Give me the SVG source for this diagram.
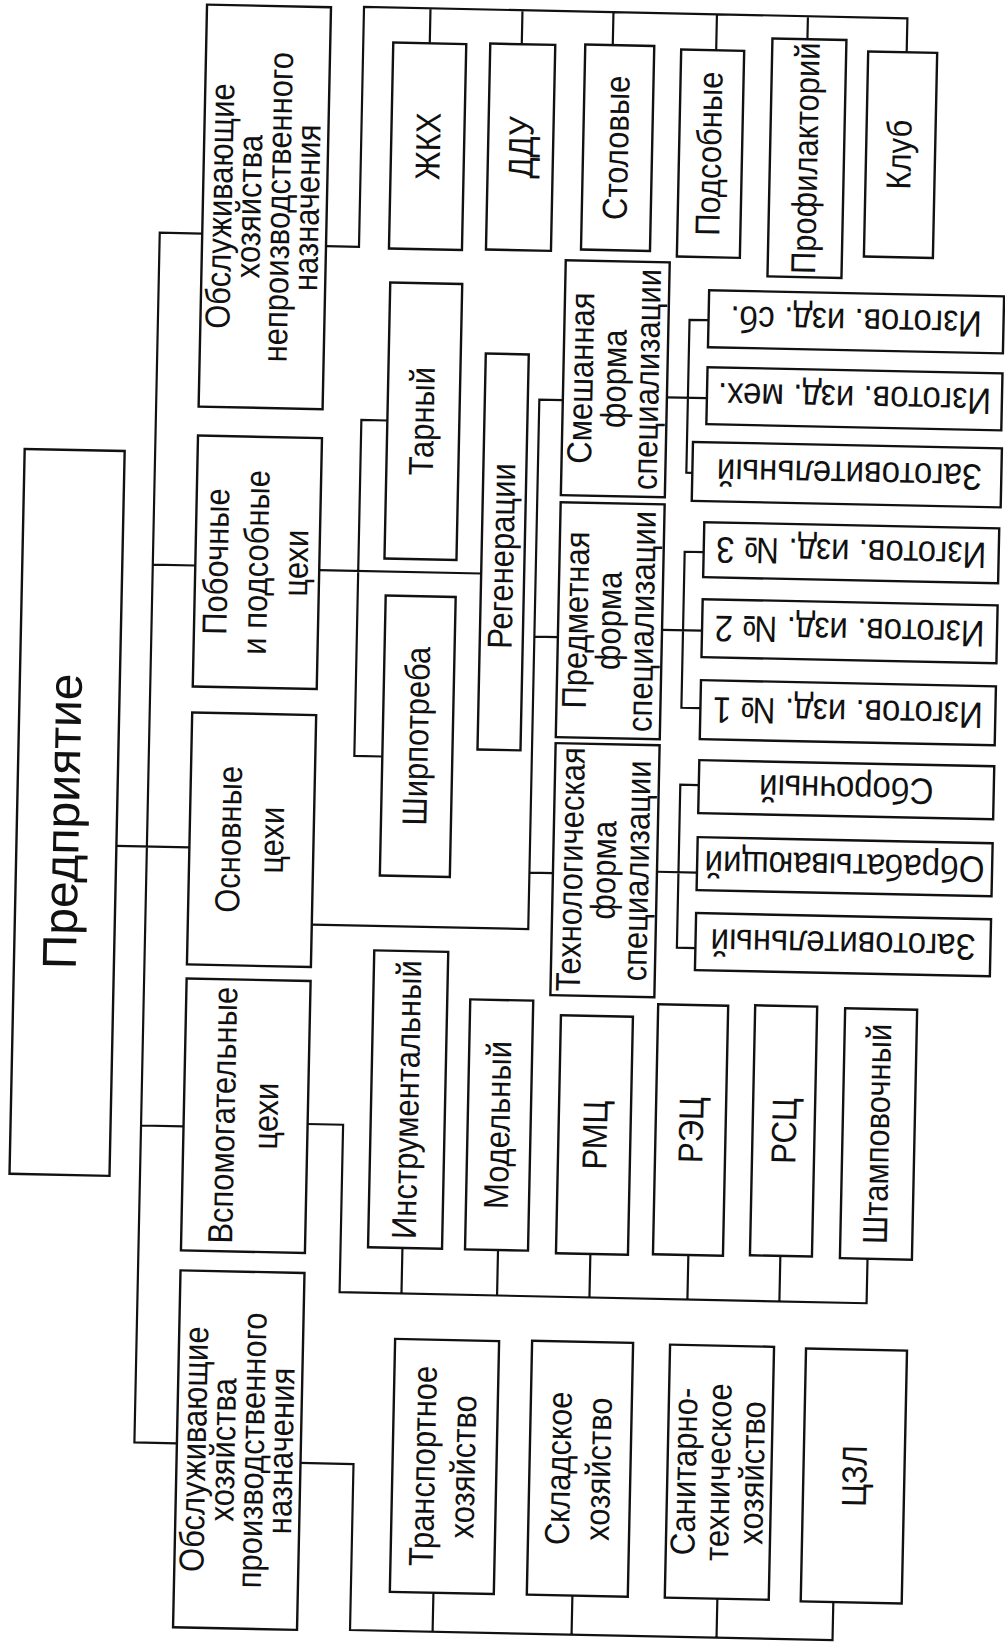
<svg xmlns="http://www.w3.org/2000/svg" width="1005" height="1642" viewBox="0 0 1005 1642">
<style>
.b{fill:#fff;stroke:#111;stroke-width:2.4}
.c{fill:none;stroke:#111;stroke-width:2.2}
.t{font-family:"Liberation Sans",Arial,sans-serif;font-size:31px;fill:#111;text-anchor:middle}
.r{font-size:33px}
.big{font-size:48px}
</style>
<rect width="1005" height="1642" fill="#fff"/>
<g transform="rotate(1.2 502 821)">
<g id="connectors">
<path class="c" d="M190 240 H147.5 V1450 H190 M147.5 572 H190 M147.5 1133 H190 M117 854 H190"/>
<path class="c" d="M314 250 H347 V10 H890.5 V44 M413.5 10 V45 M505.5 10 V44 M596.5 10 V43 M700 10 V46 M791 10 V33"/>
<path class="c" d="M314 574 H476 M379 423 H353 V759 H381"/>
<path class="c" d="M314 928.5 H530.5 V399 H554 M530.5 636 H554 M530.5 872 H554"/>
<path class="c" d="M658 394 H698 M698 316 H679 V469 H685"/>
<path class="c" d="M658 626.5 H698 M698 548 H679 V704 H698"/>
<path class="c" d="M658 868.5 H698 M698 781 H679.5 V944 H698"/>
<path class="c" d="M314 1128 H349.5 V1295.5 H876.6 V1251 M411.4 1295.5 V1250 M507 1295.5 V1250 M599.4 1295.5 V1252 M697.4 1295.5 V1251 M789.4 1295.5 V1250"/>
<path class="c" d="M313 1467 H367 V1633 H849.6 V1595 M449.6 1633 V1594 M588.6 1633 V1594 M733.6 1633 V1594"/>
</g>

<g id="n-predpriyatie"><rect class="b" x="17" y="459" width="100" height="725"/>
<text class="t big" transform="translate(67 830.5) rotate(-90)"><tspan x="0" y="12">Предприятие</tspan></text></g>

<g id="n-obsl-neproizv"><rect class="b" x="190" y="11" width="124" height="402"/>
<text class="t" transform="translate(252 212) rotate(-90) scale(1 1.12)"><tspan x="0" y="-29.5">Обслуживающие</tspan><tspan x="0" y="-3.6">хозяйства</tspan><tspan x="0" y="22.3">непроизводственного</tspan><tspan x="0" y="48.2">назначения</tspan></text></g>

<g id="n-pobochnye"><rect class="b" x="190" y="442" width="124" height="251"/>
<text class="t" transform="translate(252 567.5) rotate(-90) scale(1 1.12)"><tspan x="0" y="-26.4">Побочные</tspan><tspan x="0" y="9.3">и подсобные</tspan><tspan x="0" y="45">цехи</tspan></text></g>

<g id="n-osnovnye"><rect class="b" x="190" y="719" width="124" height="252"/>
<text class="t" transform="translate(252 845) rotate(-90) scale(1 1.12)"><tspan x="0" y="-9.9">Основные</tspan><tspan x="0" y="28.5">цехи</tspan></text></g>

<g id="n-vspom"><rect class="b" x="190" y="985" width="124" height="272"/>
<text class="t" transform="translate(252 1121) rotate(-90) scale(1 1.12)"><tspan x="0" y="-9.9">Вспомогательные</tspan><tspan x="0" y="28.5">цехи</tspan></text></g>

<g id="n-obsl-proizv"><rect class="b" x="190" y="1277" width="124" height="357"/>
<text class="t" transform="translate(252 1455.5) rotate(-90) scale(1 1.12)"><tspan x="0" y="-29.5">Обслуживающие</tspan><tspan x="0" y="-3.6">хозяйства</tspan><tspan x="0" y="22.3">производственного</tspan><tspan x="0" y="48.2">назначения</tspan></text></g>

<g id="n-zhkh"><rect class="b" x="377" y="45" width="73" height="206"/>
<text class="t" transform="translate(413.5 148) rotate(-90) scale(1 1.12)"><tspan x="0" y="11.1">ЖКХ</tspan></text></g>
<g id="n-ddu"><rect class="b" x="474" y="44" width="65" height="206"/>
<text class="t" transform="translate(506.5 147) rotate(-90) scale(1 1.12)"><tspan x="0" y="11.1">ДДУ</tspan></text></g>
<g id="n-stolovye"><rect class="b" x="569" y="43" width="69" height="205"/>
<text class="t" transform="translate(603.5 145.5) rotate(-90) scale(1 1.12)"><tspan x="0" y="9.3">Столовые</tspan></text></g>
<g id="n-podsobnye"><rect class="b" x="665" y="46" width="63" height="207"/>
<text class="t" transform="translate(696.5 149.5) rotate(-90) scale(1 1.12)"><tspan x="0" y="9.3">Подсобные</tspan></text></g>
<g id="n-profilaktoriy"><rect class="b" x="756" y="33" width="74" height="238"/>
<text class="t" transform="translate(793 152) rotate(-90) scale(1 1.12)"><tspan x="0" y="9.3">Профилакторий</tspan></text></g>
<g id="n-klub"><rect class="b" x="852" y="44" width="69" height="205"/>
<text class="t" transform="translate(886.5 146.5) rotate(-90) scale(1 1.12)"><tspan x="0" y="9.3">Клуб</tspan></text></g>

<g id="n-tarnyy"><rect class="b" x="379" y="285" width="72" height="276"/>
<text class="t" transform="translate(415 423) rotate(-90) scale(1 1.12)"><tspan x="0" y="9.3">Тарный</tspan></text></g>
<g id="n-shirpotreba"><rect class="b" x="381" y="598" width="70" height="280"/>
<text class="t" transform="translate(416 738) rotate(-90) scale(1 1.12)"><tspan x="0" y="9.3">Ширпотреба</tspan></text></g>
<g id="n-regeneracii"><rect class="b" x="476" y="354" width="43" height="396"/>
<text class="t" transform="translate(497.5 556) rotate(-90) scale(1 1.12)"><tspan x="0" y="9.3">Регенерации</tspan></text></g>

<g id="n-smeshannaya"><rect class="b" x="554" y="259" width="104" height="235"/>
<text class="t" transform="translate(606 376.5) rotate(-90) scale(1 1.12)"><tspan x="0" y="-20.2">Смешанная</tspan><tspan x="0" y="9.3">форма</tspan><tspan x="0" y="38.8">специализации</tspan></text></g>
<g id="n-predmetnaya"><rect class="b" x="554" y="501" width="104" height="235"/>
<text class="t" transform="translate(606 618.5) rotate(-90) scale(1 1.12)"><tspan x="0" y="-20.2">Предметная</tspan><tspan x="0" y="9.3">форма</tspan><tspan x="0" y="38.8">специализации</tspan></text></g>
<g id="n-tehnolog"><rect class="b" x="554" y="742" width="104" height="252"/>
<text class="t" transform="translate(606 868) rotate(-90) scale(1 1.12)"><tspan x="0" y="-20.2">Технологическая</tspan><tspan x="0" y="9.3">форма</tspan><tspan x="0" y="38.8">специализации</tspan></text></g>

<g id="n-izg-sb"><rect class="b" x="698" y="286" width="295" height="57"/>
<text class="t r" transform="translate(845.5 314.5) rotate(180) scale(1 1.12)"><tspan x="0" y="11.5">Изготов. изд. сб.</tspan></text></g>
<g id="n-izg-meh"><rect class="b" x="698" y="363" width="295" height="57"/>
<text class="t r" transform="translate(845.5 391.5) rotate(180) scale(1 1.12)"><tspan x="0" y="11.5">Изготов. изд. мех.</tspan></text></g>
<g id="n-zagot1"><rect class="b" x="685" y="438" width="309" height="59"/>
<text class="t r" transform="translate(842 467.5) rotate(180) scale(1 1.12)"><tspan x="0" y="11.5">Заготовительный</tspan></text></g>
<g id="n-izg-3"><rect class="b" x="698" y="518" width="295" height="55"/>
<text class="t r" transform="translate(845.5 545.5) rotate(180) scale(1 1.12)"><tspan x="0" y="11.5">Изготов. изд. № 3</tspan></text></g>
<g id="n-izg-2"><rect class="b" x="698" y="595" width="295" height="58"/>
<text class="t r" transform="translate(845.5 624) rotate(180) scale(1 1.12)"><tspan x="0" y="11.5">Изготов. изд. № 2</tspan></text></g>
<g id="n-izg-1"><rect class="b" x="698" y="676" width="295" height="59"/>
<text class="t r" transform="translate(845.5 705.5) rotate(180) scale(1 1.12)"><tspan x="0" y="11.5">Изготов. изд. № 1</tspan></text></g>
<g id="n-sborochnyy"><rect class="b" x="698" y="756" width="295" height="53"/>
<text class="t r" transform="translate(845.5 782.5) rotate(180) scale(1 1.12)"><tspan x="0" y="11.5">Сборочный</tspan></text></g>
<g id="n-obrabat"><rect class="b" x="698" y="833" width="295" height="53"/>
<text class="t r" transform="translate(845.5 859.5) rotate(180) scale(1 1.12)"><tspan x="0" y="11.5">Обрабатывающий</tspan></text></g>
<g id="n-zagot2"><rect class="b" x="698" y="909" width="295" height="57"/>
<text class="t r" transform="translate(845.5 937.5) rotate(180) scale(1 1.12)"><tspan x="0" y="11.5">Заготовительный</tspan></text></g>

<g id="n-instrument"><rect class="b" x="377" y="953" width="74" height="297"/>
<text class="t" transform="translate(414 1101.5) rotate(-90) scale(1 1.12)"><tspan x="0" y="9.3">Инструментальный</tspan></text></g>
<g id="n-modelnyy"><rect class="b" x="474" y="1000" width="63" height="250"/>
<text class="t" transform="translate(505.5 1125) rotate(-90) scale(1 1.12)"><tspan x="0" y="9.3">Модельный</tspan></text></g>
<g id="n-rmc"><rect class="b" x="565" y="1014" width="72" height="238"/>
<text class="t" transform="translate(601 1133) rotate(-90) scale(1 1.12)"><tspan x="0" y="11.1">РМЦ</tspan></text></g>
<g id="n-rec"><rect class="b" x="662" y="1001" width="70" height="250"/>
<text class="t" transform="translate(697 1126) rotate(-90) scale(1 1.12)"><tspan x="0" y="11.1">РЭЦ</tspan></text></g>
<g id="n-rsc"><rect class="b" x="759" y="1000" width="62" height="250"/>
<text class="t" transform="translate(790 1125) rotate(-90) scale(1 1.12)"><tspan x="0" y="11.1">РСЦ</tspan></text></g>
<g id="n-shtamp"><rect class="b" x="849" y="1001" width="72" height="250"/>
<text class="t" transform="translate(885 1126) rotate(-90) scale(1 1.12)"><tspan x="0" y="9.3">Штамповочный</tspan></text></g>

<g id="n-transport"><rect class="b" x="406" y="1341" width="104" height="253"/>
<text class="t" transform="translate(458 1467.5) rotate(-90) scale(1 1.12)"><tspan x="0" y="-8.6">Транспортное</tspan><tspan x="0" y="27.1">хозяйство</tspan></text></g>
<g id="n-sklad"><rect class="b" x="543" y="1340" width="101" height="254"/>
<text class="t" transform="translate(593.5 1467) rotate(-90) scale(1 1.12)"><tspan x="0" y="-8.6">Складское</tspan><tspan x="0" y="27.1">хозяйство</tspan></text></g>
<g id="n-sanitar"><rect class="b" x="681" y="1341" width="104" height="253"/>
<text class="t" transform="translate(733 1467.5) rotate(-90) scale(1 1.12)"><tspan x="0" y="-21">Санитарно-</tspan><tspan x="0" y="9.3">техническое</tspan><tspan x="0" y="39.6">хозяйство</tspan></text></g>
<g id="n-czl"><rect class="b" x="817" y="1342" width="101" height="253"/>
<text class="t" transform="translate(867.5 1468.5) rotate(-90) scale(1 1.12)"><tspan x="0" y="11.1">ЦЗЛ</tspan></text></g>
</g>
</svg>
